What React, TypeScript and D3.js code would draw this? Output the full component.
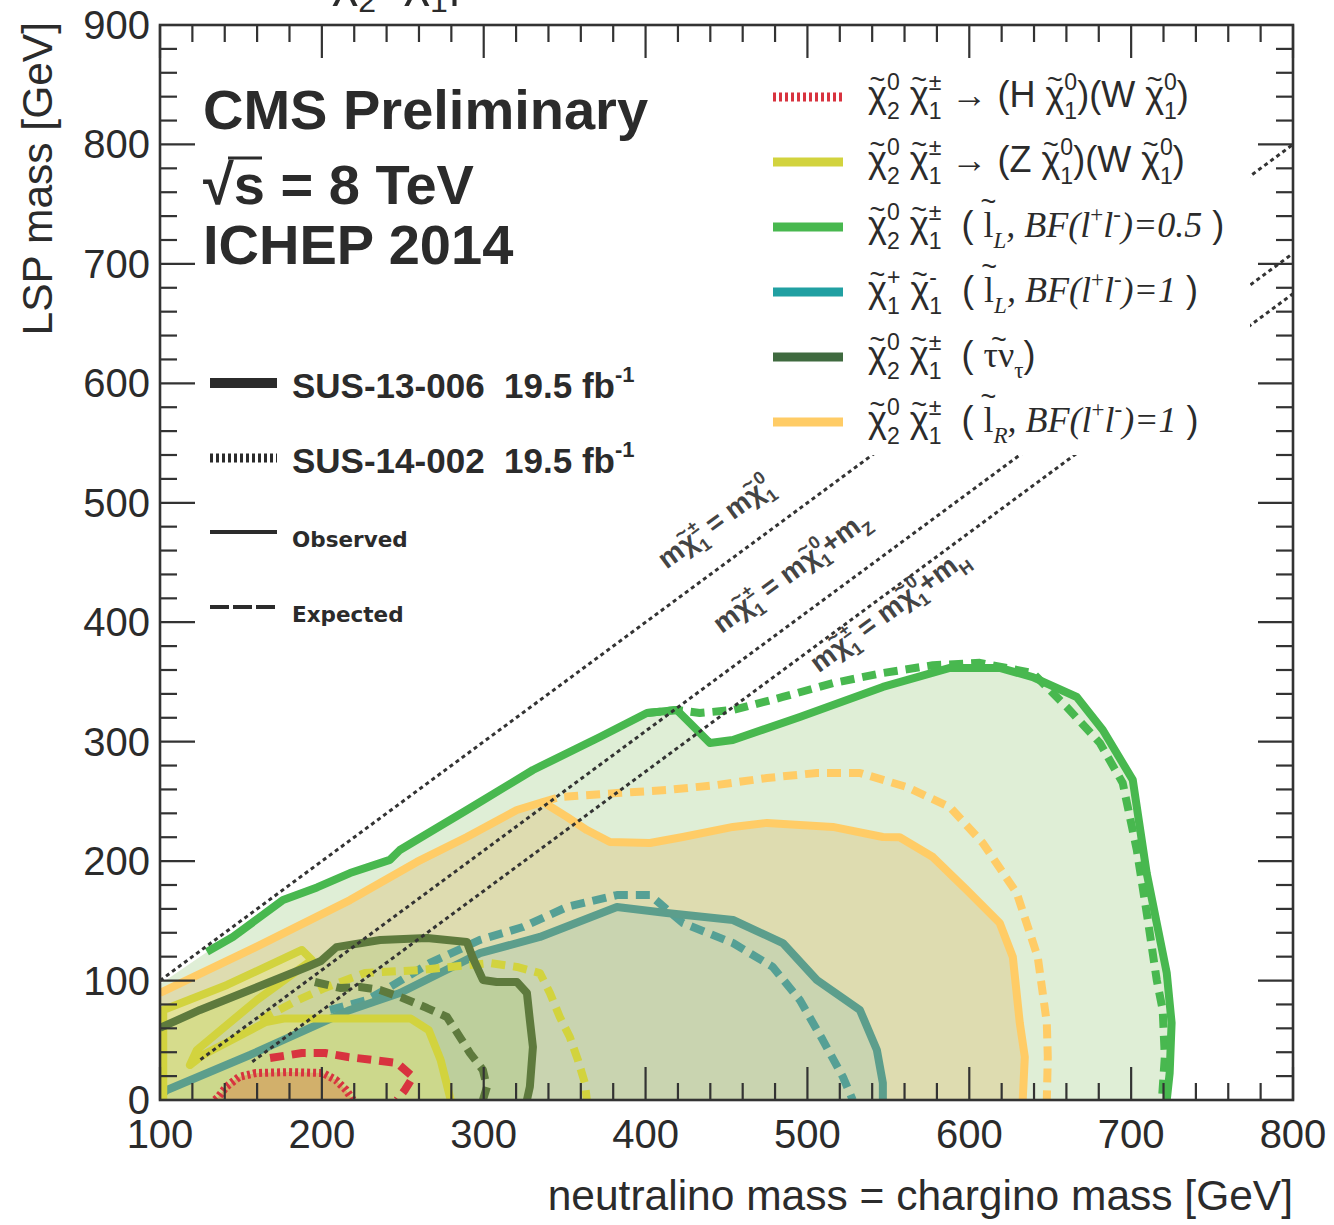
import { useEffect, useRef } from 'react';
import * as d3 from 'd3';

type Pt = [number, number];

// chargino-neutralino -> WH (red)
const whObs: Pt[] = [[134, 0], [136, 2.5], [140.8, 10.9], [148.8, 19.3], [159.3, 22.6], [179.6, 23.4], [200.6, 22.6], [208.7, 16.7], [214.9, 8.4], [219.2, 0]];
const whExp: Pt[] = [[168, 35.2], [187.7, 39.3], [202, 39.3], [216.1, 36], [231.6, 33.5], [246.4, 31], [256.3, 19.3], [251.3, 8.4], [246.4, 0]];

// chargino-neutralino -> WZ (yellow)
const wzObs: Pt[] = [[102, 0], [102, 75.4], [141.4, 96.3], [187.7, 125.6], [193.9, 117.2], [159.9, 83.7], [122.8, 41.9], [118.5, 29.3], [126.5, 37.7], [165.4, 65.3], [176.5, 68.2], [254.9, 68.2], [266, 58.6], [273.4, 33.5], [279.6, 0]];
const wzExp: Pt[] = [[161.8, 67], [185.2, 83.7], [201.9, 93.8], [226.6, 106.3], [260.6, 108.8], [303.8, 114.7], [320.5, 111.4], [334.7, 106.3], [340.9, 89.6], [347, 69.5], [353.2, 52.7], [358.2, 33.5], [362.5, 14.2], [363.7, 0]];

// left-handed sleptons, BF = 0.5 (green)
const slLObs: Pt[] = [[129, 124], [145, 136.5], [176, 167.4], [197, 178], [217.4, 190], [242, 201], [248.2, 209.3], [289.6, 242.8], [330.4, 276.3], [371.8, 303.9], [400.8, 324], [419.3, 326.5], [427.4, 315.6], [439.7, 298.9], [453.9, 301.4], [495.3, 320.7], [546.6, 345.8], [588, 361.7], [618.8, 361.7], [639.2, 354.1], [666.4, 337.4], [682.5, 309.8], [701, 268], [709.6, 190], [715.8, 148.2], [722, 106.3], [725, 64.5], [723.8, 22.6], [722, 0]];
const slLExp: Pt[] = [[400.8, 324], [419.3, 326.5], [433.5, 324], [454, 326.5], [484.8, 337.4], [515.7, 349], [546.6, 357.5], [577.5, 364], [606.5, 366], [639.2, 357.5], [660.2, 329], [680.6, 299], [694.8, 265.4], [703.5, 209.3], [710.3, 150.7], [715.8, 100.5], [719.5, 75.4], [720.8, 36], [719, 0]];

// chargino pair (teal)
const c1c1Obs: Pt[] = [[100, 4], [104.3, 8.4], [155.6, 37.7], [217.4, 75.4], [248.2, 89.6], [297.7, 123], [334.7, 136.5], [382.3, 161.6], [413, 156.6], [454, 150.7], [484.8, 131.4], [505.8, 100.5], [532.4, 75.4], [542.9, 41.9], [546.6, 14.2], [546.6, 0]];
const c1c1Exp: Pt[] = [[205, 75.4], [227.9, 83.7], [242, 94.6], [266.8, 114.7], [297.7, 134], [324.2, 144.8], [351.4, 161.6], [382.3, 171.6], [402.7, 171.6], [423, 148.2], [454, 131.4], [478.6, 111.4], [495.3, 83.7], [509.5, 50.2], [521.9, 19.3], [528, 0]];

// stau nu_tau (dark olive)
const tauObs: Pt[] = [[100, 60.3], [124.7, 75.4], [155.6, 92.1], [190.8, 111.4], [199.4, 116.4], [209, 128], [236, 134], [265, 135.6], [289.6, 132.3], [293.3, 118.9], [299.5, 100.5], [308, 98.8], [320.5, 98.8], [326.7, 89.6], [328.5, 67], [330.4, 44.4], [328.5, 10.9], [326.7, 0]];
const tauExp: Pt[] = [[195.7, 98.8], [211.2, 93.8], [223.5, 94.6], [235.9, 92.1], [250, 85.4], [265, 77], [277.3, 69.5], [285.3, 52.7], [291.5, 39.3], [299.5, 25.1], [302, 10.9], [299.5, 0]];

// right-handed sleptons (orange)
const slRObs: Pt[] = [[100, 89.6], [155.6, 125.6], [217.4, 167.4], [258.7, 199.3], [289.6, 220.2], [320.5, 242.8], [336.6, 249.5], [351.4, 237], [363.7, 226], [378, 216], [402.7, 215.2], [423, 220.2], [454, 228.6], [475, 232], [515.7, 228.6], [546.6, 220.2], [557, 220], [577.5, 203.4], [598.5, 175.8], [618.8, 148.2], [626.9, 119.7], [631.2, 64.5], [634.3, 36], [633, 0]];
const slRExp: Pt[] = [[336.6, 249.5], [347, 253.7], [382.3, 257], [413, 259.5], [444, 263.7], [475, 269.6], [505.8, 273.8], [532.4, 273.8], [561.4, 262], [588, 245.3], [608.3, 215.2], [629.3, 173.3], [642.3, 119.7], [647.9, 64.5], [648.5, 36], [647.9, 0]];

// kinematic limits m(chi1+-) = m(chi1_0) + offset
const diagOffsets = [0, 91.2, 125];
const diagStartX = [100, 125, 157];
const diagLabelPos: Pt[] = [[413, 444], [447, 390], [507, 357]];

const xMajor = [100, 200, 300, 400, 500, 600, 700, 800];
const yMajor = [0, 100, 200, 300, 400, 500, 600, 700, 800, 900];

const W = 1334;
const H = 1225;
const SANS = '"Liberation Sans", Arial, sans-serif';
const SERIF = '"Liberation Serif", "Times New Roman", serif';
const INK = '#2b2b2b';

// rich text pieces: plain, sub, sup, stacked sub+sup ('ss'), tilde-accented ('tl')
type Seg = { t: string; k?: 'sub' | 'sup' | 'ss' | 'tl'; s2?: string; f?: string; it?: boolean; h?: number };

function chi(sub: string, sup: string): Seg[] {
  return [{ t: 'χ', k: 'tl', h: 0.5 }, { t: sub, k: 'ss', s2: sup }];
}

function rich(sel: d3.Selection<SVGTextElement, unknown, null, undefined>, segs: Seg[], size: number) {
  let shift = 0;
  let pendDx = 0;
  const small = size * 0.64;
  const tsp = (txt: string, fs: number, target: number, seg: Seg) => {
    const t = sel.append('tspan')
      .attr('font-size', fs)
      .attr('dy', target - shift)
      .text(txt);
    if (pendDx) { t.attr('dx', pendDx); pendDx = 0; }
    if (seg.f) t.attr('font-family', seg.f);
    if (seg.it) t.attr('font-style', 'italic');
    shift = target;
    return t;
  };
  const len = (t: d3.Selection<SVGTSpanElement, unknown, null, undefined>) =>
    (t.node() as SVGTSpanElement).getComputedTextLength();
  segs.forEach((seg) => {
    if (seg.k === 'sub') tsp(seg.t, small, size * 0.3, seg);
    else if (seg.k === 'sup') tsp(seg.t, small, -size * 0.42, seg);
    else if (seg.k === 'ss') {
      const a = tsp(seg.t, small, size * 0.32, seg);
      const w = len(a);
      const b = tsp(seg.s2 || '', small, -size * 0.46, { t: '' });
      const w2 = len(b);
      b.attr('dx', -w);
      if (w2 < w) pendDx = w - w2;
    } else if (seg.k === 'tl') {
      const a = tsp(seg.t, size, 0, seg);
      const w = len(a);
      const tl = tsp('~', size * 0.75, -size * (seg.h ?? 0.5), { t: '' });
      const wt = len(tl);
      tl.attr('dx', -(w + wt) / 2);
      pendDx = (w - wt) / 2;
      shift = -size * (seg.h ?? 0.5);
    } else tsp(seg.t, size, 0, seg);
  });
  if (shift !== 0) sel.append('tspan').attr('dy', -shift).text('');
}

export default function App() {
  const ref = useRef<SVGSVGElement>(null);

  useEffect(() => {
    if (!ref.current) return;
    const svg = d3.select(ref.current);
    svg.selectAll('*').remove();

    const x = d3.scaleLinear().domain([100, 800]).range([160, 1293]);
    const y = d3.scaleLinear().domain([0, 900]).range([1100, 25]);
    const line = d3.line<Pt>().x((d) => x(d[0])).y((d) => y(d[1]));

    svg.append('rect').attr('width', W).attr('height', H).attr('fill', '#fff');

    svg.append('defs').append('clipPath').attr('id', 'plot')
      .append('rect').attr('x', x(100)).attr('y', y(900))
      .attr('width', x(800) - x(100)).attr('height', y(0) - y(900));

    const plot = svg.append('g').attr('clip-path', 'url(#plot)');

    // filled excluded regions (observed)
    const fills: { pts: Pt[]; color: string; op: number }[] = [
      { pts: [[100, 0], [100, 97], ...slLObs], color: '#5faa32', op: 0.2 },
      { pts: [[100, 0], ...slRObs], color: '#dfb25b', op: 0.3 },
      { pts: [[100, 0], ...c1c1Obs], color: '#99c5ae', op: 0.3 },
      { pts: [[100, 0], ...tauObs], color: '#a2c46d', op: 0.3 },
      { pts: wzObs, color: '#f0ee67', op: 0.3 },
      { pts: whObs, color: '#de672e', op: 0.35 },
    ];
    fills.forEach((f) => {
      plot.append('path').attr('d', line(f.pts) + 'Z')
        .attr('fill', f.color).attr('fill-opacity', f.op).attr('stroke', 'none');
    });

    const curves: { pts: Pt[]; color: string; dash?: string }[] = [
      { pts: slLExp, color: '#48b84f', dash: '14 8' },
      { pts: slLObs, color: '#48b84f' },
      { pts: slRExp, color: '#ffcc66', dash: '14 8' },
      { pts: slRObs, color: '#ffcc66' },
      { pts: c1c1Exp, color: '#55a095', dash: '14 8' },
      { pts: c1c1Obs, color: '#5c9e8c' },
      { pts: wzExp, color: '#d2d33e', dash: '14 8' },
      { pts: wzObs, color: '#d2d33e' },
      { pts: tauExp, color: '#5e7a3d', dash: '14 8' },
      { pts: tauObs, color: '#5e7a3d' },
      { pts: whExp, color: '#d8333f', dash: '14 8' },
      { pts: whObs, color: '#d8333f', dash: '3 3' },
    ];
    curves.forEach((c) => {
      plot.append('path').attr('d', line(c.pts))
        .attr('fill', 'none').attr('stroke', c.color)
        .attr('stroke-width', 8)
        .attr('stroke-linejoin', 'round')
        .attr('stroke-dasharray', c.dash || null);
    });

    // kinematic limit lines
    diagOffsets.forEach((off, i) => {
      const x0 = diagStartX[i];
      plot.append('path')
        .attr('d', line([[x0, x0 - off], [800, 800 - off]]))
        .attr('stroke', '#333').attr('stroke-width', 3)
        .attr('stroke-dasharray', '4 3.5').attr('fill', 'none');
    });

    const angle = (Math.atan2(y(100) - y(0), x(200) - x(100)) * 180) / Math.PI;
    const diagLabels: Seg[][] = [
      [{ t: 'm' }, ...chi('1', '±'), { t: ' = m' }, ...chi('1', '0')],
      [{ t: 'm' }, ...chi('1', '±'), { t: ' = m' }, ...chi('1', '0'), { t: '+m' }, { t: 'Z', k: 'sub' }],
      [{ t: 'm' }, ...chi('1', '±'), { t: ' = m' }, ...chi('1', '0'), { t: '+m' }, { t: 'H', k: 'sub' }],
    ];
    diagLabels.forEach((segs, i) => {
      const [lx, ly] = diagLabelPos[i];
      const t = svg.append('text')
        .attr('transform', `translate(${x(lx)},${y(ly)}) rotate(${angle})`)
        .attr('font-family', SANS).attr('fill', '#444').attr('font-weight', 'bold')
        .style('white-space', 'pre');
      rich(t, segs, 28);
    });

    // legend (right) with white background
    svg.append('rect').attr('x', 760).attr('y', 60).attr('width', 490).attr('height', 395).attr('fill', '#fff');
    const slep = (lbl: string, bf: string): Seg[] => [
      { t: '  ( ' }, { t: 'l', k: 'tl', f: SERIF, h: 0.72 }, { t: lbl, k: 'sub', f: SERIF, it: true },
      { t: ', BF(l', f: SERIF, it: true }, { t: '+', k: 'sup', f: SERIF }, { t: 'l', f: SERIF, it: true },
      { t: '-', k: 'sup', f: SERIF }, { t: `)=${bf}`, f: SERIF, it: true }, { t: ' )' },
    ];
    const legRows: { color: string; dash?: string; segs: Seg[] }[] = [
      { color: '#d8333f', dash: '3 3', segs: [...chi('2', '0'), { t: ' ' }, ...chi('1', '±'), { t: ' → (H ' }, ...chi('1', '0'), { t: ')(W ' }, ...chi('1', '0'), { t: ')' }] },
      { color: '#d2d33e', segs: [...chi('2', '0'), { t: ' ' }, ...chi('1', '±'), { t: ' → (Z ' }, ...chi('1', '0'), { t: ')(W ' }, ...chi('1', '0'), { t: ')' }] },
      { color: '#48b84f', segs: [...chi('2', '0'), { t: ' ' }, ...chi('1', '±'), ...slep('L', '0.5')] },
      { color: '#21a0a2', segs: [...chi('1', '+'), { t: ' ' }, ...chi('1', '-'), ...slep('L', '1')] },
      { color: '#3f6a3f', segs: [...chi('2', '0'), { t: ' ' }, ...chi('1', '±'), { t: '  ( ' }, { t: 'τν', k: 'tl', f: SERIF, h: 0.5 }, { t: 'τ', k: 'sub', f: SERIF }, { t: ')' }] },
      { color: '#ffcc66', segs: [...chi('2', '0'), { t: ' ' }, ...chi('1', '±'), ...slep('R', '1')] },
    ];
    legRows.forEach((r, i) => {
      const ly = 97 + i * 65;
      svg.append('line').attr('x1', 773).attr('x2', 843).attr('y1', ly).attr('y2', ly)
        .attr('stroke', r.color).attr('stroke-width', 9)
        .attr('stroke-dasharray', r.dash || null);
      const t = svg.append('text').attr('x', 868).attr('y', ly + 10)
        .attr('font-family', SANS).attr('fill', INK).style('white-space', 'pre');
      rich(t, r.segs, 36);
    });

    // CMS labels
    const head = svg.append('g').attr('font-family', SANS).attr('font-weight', 'bold').attr('fill', INK);
    head.append('text').attr('x', 203).attr('y', 129).attr('font-size', 56).text('CMS Preliminary');
    head.append('text').attr('x', 203).attr('y', 204).attr('font-size', 56).text('√s = 8 TeV');
    head.append('line').attr('x1', 228).attr('x2', 262).attr('y1', 158).attr('y2', 158)
      .attr('stroke', INK).attr('stroke-width', 3);
    head.append('text').attr('x', 203).attr('y', 264).attr('font-size', 56).text('ICHEP 2014');

    // analysis / line style legend (left)
    const styleLeg: { yy: number; w: number; dash?: string; label: string; big: boolean }[] = [
      { yy: 383, w: 10, label: 'SUS-13-006  19.5 fb', big: true },
      { yy: 458, w: 9, dash: '3 3', label: 'SUS-14-002  19.5 fb', big: true },
      { yy: 532, w: 4, label: 'Observed', big: false },
      { yy: 607, w: 4, dash: '19 4', label: 'Expected', big: false },
    ];
    styleLeg.forEach((s) => {
      svg.append('line').attr('x1', 210).attr('x2', 277).attr('y1', s.yy).attr('y2', s.yy)
        .attr('stroke', INK).attr('stroke-width', s.w).attr('stroke-dasharray', s.dash || null);
      if (s.big) {
        const t = svg.append('text').attr('x', 292).attr('y', s.yy + 15)
          .attr('font-family', SANS).attr('font-weight', 'bold').attr('font-size', 35)
          .attr('fill', INK).style('white-space', 'pre');
        t.append('tspan').text(s.label);
        t.append('tspan').attr('font-size', 22).attr('dy', -16).text('-1');
      } else {
        svg.append('text').attr('x', 292).attr('y', s.yy + 15)
          .attr('font-family', '"DejaVu Sans", sans-serif').attr('font-weight', 'bold')
          .attr('font-size', 21.5).attr('fill', INK).text(s.label);
      }
    });

    // cut-off title fragment at the very top
    const title = svg.append('text').attr('x', 332).attr('y', -4)
      .attr('font-family', SANS).attr('fill', INK).style('white-space', 'pre');
    rich(title, [...chi('2', '0'), { t: '  ' }, ...chi('1', '±'), { t: '|' }], 50);

    // frame, ticks
    const axes = svg.append('g').attr('stroke', '#333').attr('stroke-width', 2.2);
    axes.append('rect').attr('x', x(100)).attr('y', y(900))
      .attr('width', x(800) - x(100)).attr('height', y(0) - y(900))
      .attr('fill', 'none').attr('stroke-width', 2.6);
    d3.range(100, 801, 20).forEach((v) => {
      const tl = v % 100 === 0 ? 33 : 17;
      axes.append('line').attr('x1', x(v)).attr('x2', x(v)).attr('y1', y(0)).attr('y2', y(0) - tl);
      axes.append('line').attr('x1', x(v)).attr('x2', x(v)).attr('y1', y(900)).attr('y2', y(900) + tl);
    });
    d3.range(0, 901, 20).forEach((v) => {
      const tl = v % 100 === 0 ? 35 : 17;
      axes.append('line').attr('x1', x(100)).attr('x2', x(100) + tl).attr('y1', y(v)).attr('y2', y(v));
      axes.append('line').attr('x1', x(800)).attr('x2', x(800) - tl).attr('y1', y(v)).attr('y2', y(v));
    });

    const lab = svg.append('g').attr('font-family', SANS).attr('font-size', 40).attr('fill', INK);
    xMajor.forEach((v) => {
      lab.append('text').attr('x', x(v)).attr('y', 1148).attr('text-anchor', 'middle').text(String(v));
    });
    yMajor.forEach((v) => {
      lab.append('text').attr('x', 150).attr('y', y(v) + 14).attr('text-anchor', 'end').text(String(v));
    });
    lab.append('text').attr('x', 1293).attr('y', 1210).attr('text-anchor', 'end')
      .attr('font-size', 42.5).text('neutralino mass = chargino mass [GeV]');
    lab.append('text').attr('transform', `translate(52,22) rotate(-90)`).attr('text-anchor', 'end')
      .attr('font-size', 42.5).text('LSP mass [GeV]');
  }, []);

  return (
    <div style={{ position: 'absolute', left: 0, top: 0 }}>
      <svg ref={ref} width={W} height={H} style={{ display: 'block' }} />
    </div>
  );
}
